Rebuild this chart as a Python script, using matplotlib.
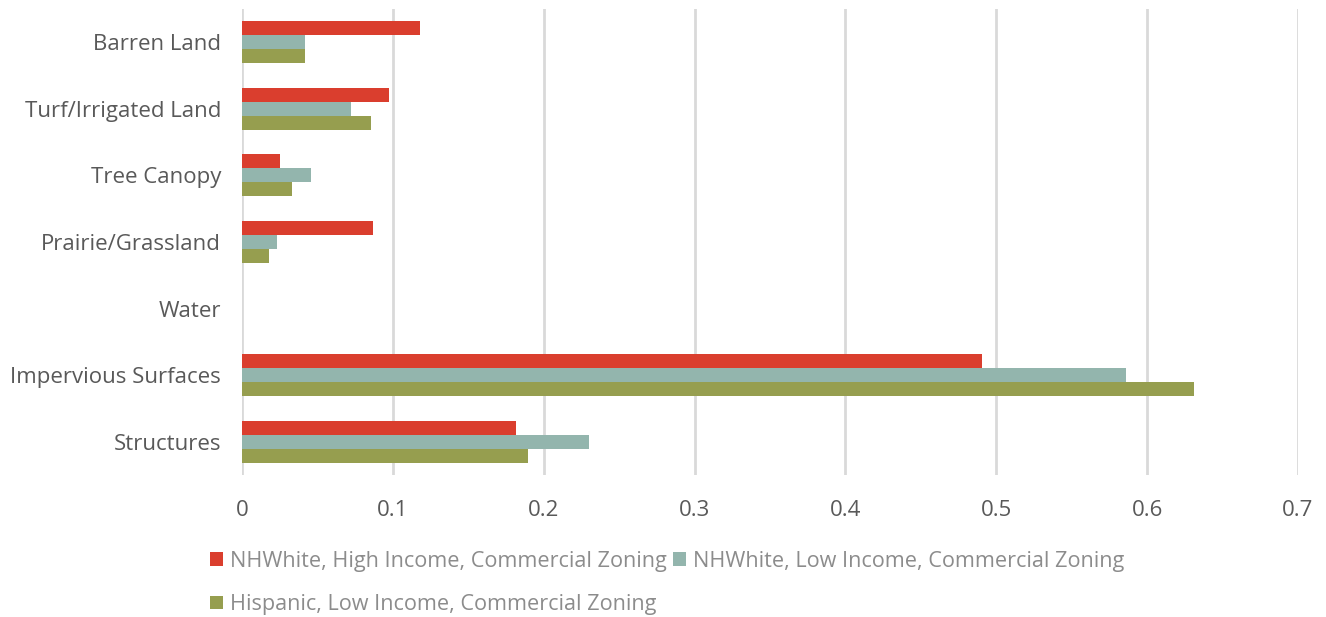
import matplotlib.pyplot as plt
import numpy as np

categories = ['Barren Land', 'Turf/Irrigated Land', 'Tree Canopy', 'Prairie/Grassland',
              'Water', 'Impervious Surfaces', 'Structures']
nhwhite_high = [0.118, 0.0975, 0.025, 0.087, 0.0, 0.4905, 0.1815]
nhwhite_low = [0.042, 0.072, 0.046, 0.023, 0.0, 0.586, 0.230]
hispanic_low = [0.042, 0.0855, 0.033, 0.018, 0.0, 0.631, 0.1895]
series_names = ['NHWhite, High Income, Commercial Zoning',
                'NHWhite, Low Income, Commercial Zoning',
                'Hispanic, Low Income, Commercial Zoning']
colors = ['#DA3E2E', '#93B5AD', '#969E4F']
xticks = [0, 0.1, 0.2, 0.3, 0.4, 0.5, 0.6, 0.7]

plt.rcParams['font.family'] = ['Open Sans', 'DejaVu Sans']

fig = plt.figure(figsize=(13.26, 6.17), dpi=100)
ax = fig.add_axes([242 / 1326, 1 - 475 / 617, (1298 - 242) / 1326, (475 - 9) / 617])

y = np.arange(len(categories))
h = 0.21
bars = []
for k, vals in enumerate([nhwhite_high, nhwhite_low, hispanic_low]):
    b = ax.barh(y + (k - 1) * h, vals, height=h, color=colors[k], label=series_names[k], zorder=3)
    bars.append(b)

ax.set_ylim(len(categories) - 0.5, -0.5)
ax.set_xlim(0, 0.7)
ax.set_yticks(y)
ax.set_yticklabels(categories)
ax.set_xticks(xticks)
ax.set_xticklabels([f'{t:g}' for t in xticks])
ax.tick_params(axis='both', length=0, labelsize=16, labelcolor='#595959')
ax.tick_params(axis='y', pad=15)
ax.tick_params(axis='x', pad=18)
ax.grid(axis='x', color='#D9D9D9', linewidth=2, zorder=0)
for s in ax.spines.values():
    s.set_visible(False)

leg = fig.legend([bars[0], bars[2], bars[1]],
                 [series_names[0], series_names[2], series_names[1]],
                 ncol=2, loc='upper left', bbox_to_anchor=(191 / 1326, 1 - 531 / 617),
                 frameon=False, fontsize=15.6, handlelength=0.6, handleheight=0.6,
                 handletextpad=0.3, columnspacing=0.3, labelspacing=1.05, labelcolor='#8C8C8C')

fig.savefig('out.png', dpi=100)
